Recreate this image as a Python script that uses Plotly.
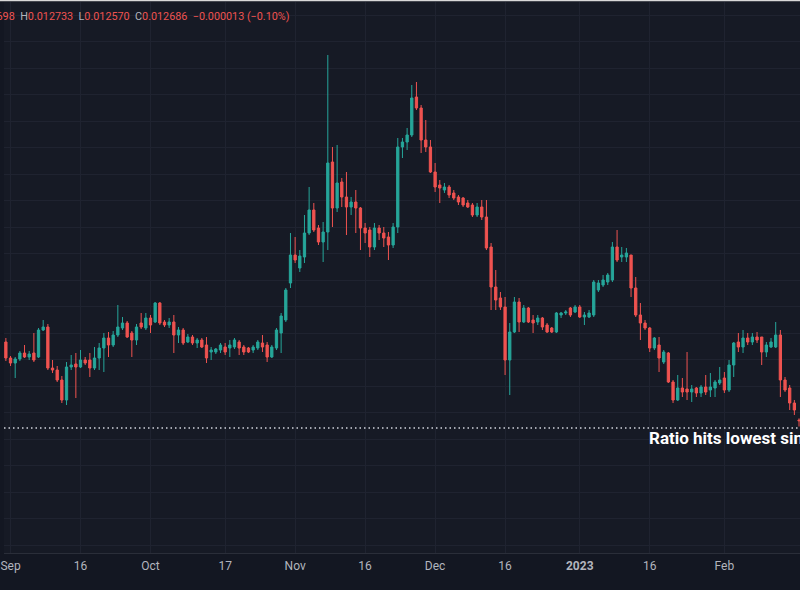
import pandas as pd
import plotly.graph_objects as go

# Daily candles, 2022-08-31 .. 2023-02-17 (ratio values)
start_date = "2022-08-31"

open_ = [
    0.01426,
    # Sep
    0.01394, 0.01384, 0.01392, 0.01404, 0.01396, 0.01404, 0.01396, 0.01450, 0.01456, 0.01374,
    0.01370, 0.01350, 0.01310, 0.01376, 0.01382, 0.01376, 0.01390, 0.01390, 0.01374, 0.01394,
    0.01414, 0.01434, 0.01420, 0.01440, 0.01454, 0.01464, 0.01444, 0.01430, 0.01464, 0.01454,
    # Oct
    0.01474, 0.01466, 0.01504, 0.01466, 0.01460, 0.01466, 0.01440, 0.01450, 0.01426, 0.01436,
    0.01424, 0.01430, 0.01420, 0.01406, 0.01406, 0.01410, 0.01416, 0.01414, 0.01416, 0.01426,
    0.01416, 0.01414, 0.01410, 0.01414, 0.01424, 0.01420, 0.01396, 0.01414, 0.01444, 0.01470,
    0.01544,
    # Nov
    0.01600, 0.01574, 0.01596, 0.01644, 0.01690, 0.01654, 0.01626, 0.01646, 0.01786, 0.01694,
    0.01746, 0.01716, 0.01696, 0.01706, 0.01694, 0.01654, 0.01650, 0.01616, 0.01654, 0.01644,
    0.01636, 0.01620, 0.01656, 0.01816, 0.01826, 0.01840, 0.01916, 0.01894, 0.01830, 0.01816,
    # Dec
    0.01766, 0.01740, 0.01730, 0.01736, 0.01724, 0.01716, 0.01714, 0.01704, 0.01700, 0.01680,
    0.01696, 0.01676, 0.01616, 0.01536, 0.01514, 0.01496, 0.01390, 0.01446, 0.01506, 0.01466,
    0.01494, 0.01470, 0.01466, 0.01474, 0.01460, 0.01454, 0.01446, 0.01480, 0.01484, 0.01494,
    0.01486,
    # Jan
    0.01496, 0.01476, 0.01476, 0.01480, 0.01530, 0.01540, 0.01546, 0.01550, 0.01616, 0.01596,
    0.01596, 0.01600, 0.01534, 0.01480, 0.01464, 0.01454, 0.01414, 0.01420, 0.01386, 0.01404,
    0.01346, 0.01310, 0.01334, 0.01332, 0.01326, 0.01334, 0.01324, 0.01336, 0.01330, 0.01334,
    0.01344,
    # Feb
    0.01354, 0.01330, 0.01380, 0.01426, 0.01416, 0.01434, 0.01426, 0.01436, 0.01436, 0.01406,
    0.01416, 0.01416, 0.01440, 0.01350, 0.01334, 0.01304, 0.012698,
]

high = [
    0.01434,
    0.01398, 0.01396, 0.01408, 0.01420, 0.01408, 0.01444, 0.01454, 0.01470, 0.01462, 0.01390,
    0.01378, 0.01358, 0.01386, 0.01400, 0.01404, 0.01410, 0.01396, 0.01404, 0.01416, 0.01424,
    0.01444, 0.01446, 0.01448, 0.01500, 0.01476, 0.01468, 0.01448, 0.01462, 0.01484, 0.01484,
    0.01480, 0.01506, 0.01506, 0.01470, 0.01474, 0.01480, 0.01456, 0.01454, 0.01442, 0.01440,
    0.01434, 0.01434, 0.01436, 0.01416, 0.01414, 0.01424, 0.01424, 0.01430, 0.01434, 0.01430,
    0.01420, 0.01416, 0.01420, 0.01430, 0.01440, 0.01426, 0.01420, 0.01454, 0.01484, 0.01534,
    0.01644,
    0.01636, 0.01610, 0.01680, 0.01736, 0.01704, 0.01660, 0.01666, 0.02000, 0.01816, 0.01820,
    0.01754, 0.01766, 0.01716, 0.01730, 0.01696, 0.01664, 0.01656, 0.01664, 0.01660, 0.01656,
    0.01646, 0.01664, 0.01834, 0.01834, 0.01854, 0.01940, 0.01946, 0.01900, 0.01870, 0.01830,
    0.01784, 0.01750, 0.01744, 0.01740, 0.01730, 0.01720, 0.01716, 0.01710, 0.01704, 0.01704,
    0.01710, 0.01710, 0.01624, 0.01570, 0.01526, 0.01516, 0.01464, 0.01516, 0.01514, 0.01500,
    0.01496, 0.01480, 0.01480, 0.01476, 0.01464, 0.01456, 0.01486, 0.01486, 0.01490, 0.01496,
    0.01500,
    0.01500, 0.01486, 0.01490, 0.01550, 0.01550, 0.01560, 0.01564, 0.01626, 0.01650, 0.01616,
    0.01614, 0.01600, 0.01556, 0.01504, 0.01470, 0.01456, 0.01436, 0.01436, 0.01410, 0.01406,
    0.01350, 0.01360, 0.01354, 0.01406, 0.01340, 0.01336, 0.01340, 0.01360, 0.01364, 0.01350,
    0.01376,
    0.01366, 0.01390, 0.01426, 0.01444, 0.01450, 0.01444, 0.01444, 0.01446, 0.01436, 0.01426,
    0.01434, 0.01466, 0.01450, 0.01356, 0.01340, 0.01310, 0.012733,
]

low = [
    0.01388,
    0.01378, 0.01354, 0.01388, 0.01394, 0.01390, 0.01386, 0.01394, 0.01448, 0.01370, 0.01364,
    0.01346, 0.01304, 0.01300, 0.01370, 0.01314, 0.01374, 0.01380, 0.01356, 0.01370, 0.01370,
    0.01366, 0.01396, 0.01416, 0.01436, 0.01450, 0.01434, 0.01396, 0.01420, 0.01452, 0.01450,
    0.01444, 0.01464, 0.01460, 0.01456, 0.01454, 0.01404, 0.01424, 0.01420, 0.01424, 0.01420,
    0.01414, 0.01414, 0.01384, 0.01390, 0.01402, 0.01404, 0.01400, 0.01396, 0.01412, 0.01400,
    0.01400, 0.01404, 0.01404, 0.01410, 0.01406, 0.01386, 0.01394, 0.01410, 0.01404, 0.01466,
    0.01534,
    0.01584, 0.01566, 0.01584, 0.01640, 0.01646, 0.01620, 0.01586, 0.01610, 0.01656, 0.01686,
    0.01696, 0.01640, 0.01680, 0.01644, 0.01610, 0.01624, 0.01596, 0.01610, 0.01630, 0.01616,
    0.01590, 0.01614, 0.01644, 0.01794, 0.01810, 0.01836, 0.01890, 0.01804, 0.01806, 0.01764,
    0.01726, 0.01704, 0.01724, 0.01714, 0.01710, 0.01700, 0.01696, 0.01694, 0.01676, 0.01676,
    0.01670, 0.01610, 0.01490, 0.01490, 0.01490, 0.01360, 0.01320, 0.01444, 0.01446, 0.01464,
    0.01464, 0.01444, 0.01460, 0.01450, 0.01444, 0.01444, 0.01444, 0.01474, 0.01480, 0.01476,
    0.01484,
    0.01474, 0.01460, 0.01474, 0.01476, 0.01526, 0.01536, 0.01540, 0.01546, 0.01586, 0.01586,
    0.01586, 0.01516, 0.01476, 0.01430, 0.01450, 0.01406, 0.01410, 0.01366, 0.01382, 0.01344,
    0.01304, 0.01308, 0.01316, 0.01310, 0.01306, 0.01316, 0.01316, 0.01320, 0.01316, 0.01316,
    0.01340,
    0.01324, 0.01326, 0.01356, 0.01406, 0.01404, 0.01420, 0.01420, 0.01424, 0.01380, 0.01396,
    0.01414, 0.01414, 0.01316, 0.01326, 0.01290, 0.01280, 0.012570,
]

close = [
    0.01394,
    0.01384, 0.01392, 0.01404, 0.01396, 0.01402, 0.01390, 0.01450, 0.01456, 0.01374, 0.01370,
    0.01350, 0.01310, 0.01376, 0.01380, 0.01376, 0.01390, 0.01384, 0.01374, 0.01394, 0.01414,
    0.01434, 0.01420, 0.01440, 0.01456, 0.01464, 0.01436, 0.01430, 0.01456, 0.01456, 0.01474,
    0.01460, 0.01504, 0.01464, 0.01460, 0.01466, 0.01440, 0.01450, 0.01424, 0.01436, 0.01424,
    0.01430, 0.01416, 0.01394, 0.01410, 0.01412, 0.01420, 0.01406, 0.01420, 0.01430, 0.01414,
    0.01406, 0.01406, 0.01416, 0.01426, 0.01416, 0.01396, 0.01416, 0.01450, 0.01478, 0.01530,
    0.01600,
    0.01590, 0.01598, 0.01644, 0.01690, 0.01650, 0.01626, 0.01646, 0.01784, 0.01694, 0.01744,
    0.01716, 0.01696, 0.01706, 0.01694, 0.01654, 0.01644, 0.01616, 0.01654, 0.01644, 0.01634,
    0.01620, 0.01656, 0.01816, 0.01826, 0.01840, 0.01914, 0.01894, 0.01830, 0.01816, 0.01766,
    0.01736, 0.01734, 0.01736, 0.01720, 0.01714, 0.01706, 0.01700, 0.01696, 0.01680, 0.01696,
    0.01676, 0.01614, 0.01536, 0.01510, 0.01496, 0.01390, 0.01446, 0.01506, 0.01466, 0.01494,
    0.01466, 0.01464, 0.01474, 0.01456, 0.01446, 0.01446, 0.01484, 0.01484, 0.01486, 0.01480,
    0.01496,
    0.01476, 0.01480, 0.01484, 0.01546, 0.01544, 0.01550, 0.01560, 0.01616, 0.01590, 0.01600,
    0.01604, 0.01534, 0.01480, 0.01464, 0.01454, 0.01414, 0.01434, 0.01394, 0.01406, 0.01346,
    0.01310, 0.01334, 0.01326, 0.01326, 0.01332, 0.01324, 0.01336, 0.01326, 0.01336, 0.01346,
    0.01350,
    0.01330, 0.01380, 0.01424, 0.01416, 0.01434, 0.01426, 0.01436, 0.01430, 0.01406, 0.01420,
    0.01426, 0.01440, 0.01350, 0.01330, 0.01304, 0.01290, 0.012686,
]

tick_dates = ["2022-09-01", "2022-09-16", "2022-10-01", "2022-10-17", "2022-11-01",
              "2022-11-16", "2022-12-01", "2022-12-16", "2023-01-01", "2023-01-16",
              "2023-02-01"]
tick_labels = ["Sep", "16", "Oct", "17", "Nov", "16", "Dec", "16", "<b>2023</b>", "16", "Feb"]

low_since_level = 0.01254
annotation_text = "Ratio hits lowest since June 2022"
legend_parts = [("O", "0.012698"), ("H", "0.012733"), ("L", "0.012570"), ("C", "0.012686")]
legend_change = "\u22120.000013 (\u22120.10%)"

dates = pd.date_range(start_date, periods=len(open_), freq="D")

UP = "#26a69a"
DOWN = "#ef5350"
BG = "#161a25"
GRID = "#1f2330"

fig = go.Figure()
fig.add_trace(go.Candlestick(
    x=dates, open=open_, high=high, low=low, close=close,
    increasing=dict(line=dict(color=UP, width=1), fillcolor=UP),
    decreasing=dict(line=dict(color=DOWN, width=1), fillcolor=DOWN),
    whiskerwidth=0, showlegend=False, hoverinfo="skip",
))

# dotted level line
fig.add_shape(type="line", xref="paper", x0=0, x1=1, yref="y",
              y0=low_since_level, y1=low_since_level,
              line=dict(color="#d1d4dc", width=1.5, dash="1.5px,3px"), layer="above")

fig.add_annotation(text=annotation_text, xref="paper", x=646 / 800, xanchor="left",
                   yref="y", y=0.01234, yanchor="middle", showarrow=False,
                   font=dict(family="Roboto", size=17, color="#ffffff", weight="bold"))

sp = "\u00a0\u00a0"
legend_html = sp.join(
    f"<span style='color:#b2b5be'>{k}</span><span style='color:{DOWN}'>{v}</span>"
    for k, v in legend_parts
) + sp + f"<span style='color:{DOWN}'>{legend_change}</span>"
fig.add_annotation(text=legend_html, xref="paper", x=0, xanchor="left", xshift=-44,
                   yref="paper", y=(553 - 16) / 551, yanchor="middle", showarrow=False,
                   font=dict(family="Roboto", size=10.8, color=DOWN))

# white strip at bottom and thin light line at top (page edges)
fig.add_shape(type="rect", xref="paper", yref="paper", x0=-0.01, x1=1.01,
              y0=-0.2, y1=(553 - 590) / 551, fillcolor="#ffffff", line_width=0, layer="above")
fig.add_shape(type="rect", xref="paper", yref="paper", x0=-0.01, x1=1.01,
              y0=(553 - 1.2) / 551, y1=1.05, fillcolor="#d9d9d9", line_width=0, layer="above")

fig.update_layout(
    width=800, height=600,
    margin=dict(l=0, r=0, t=2, b=47, pad=0),
    paper_bgcolor="#131722", plot_bgcolor=BG,
    showlegend=False,
    xaxis=dict(
        type="date",
        range=["2022-08-30 14:24", "2023-02-17 05:00"],
        rangeslider=dict(visible=False),
        tickmode="array", tickvals=tick_dates, ticktext=tick_labels,
        tickfont=dict(family="Roboto", size=12, color="#b2b5be"),
        ticks="", ticklabelstandoff=2, ticklabeloverflow="allow",
        showgrid=True, gridcolor=GRID, gridwidth=1,
        showline=True, linecolor="#2a2e39", linewidth=1,
        zeroline=False, fixedrange=True,
    ),
    yaxis=dict(
        range=[0.01004, 0.02106],
        showticklabels=False, ticks="",
        tick0=0.01232, dtick=0.00053,
        showgrid=True, gridcolor=GRID, gridwidth=1,
        zeroline=False, showline=False, fixedrange=True,
    ),
)

fig.write_html("out.html")
